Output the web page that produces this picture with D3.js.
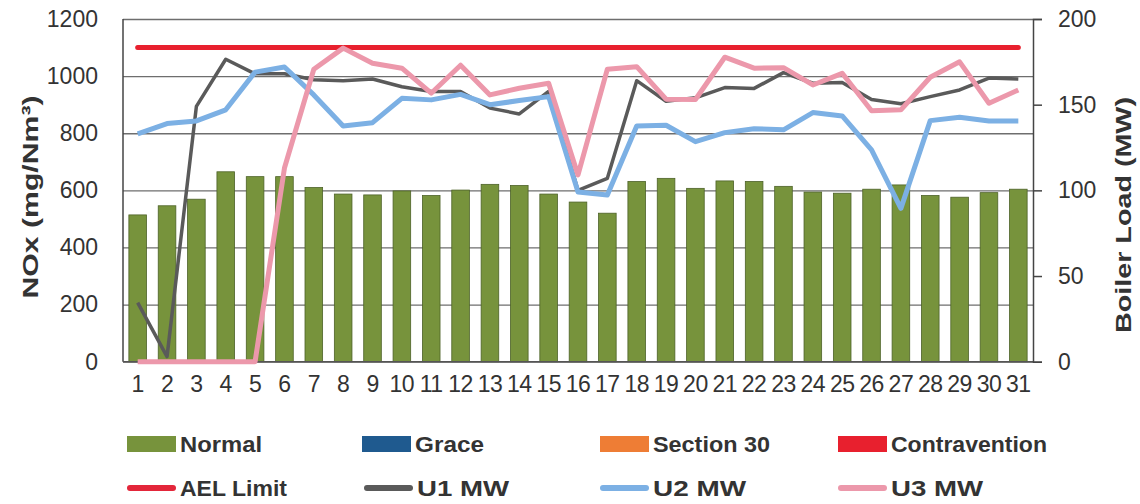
<!DOCTYPE html>
<html>
<head>
<meta charset="utf-8">
<script src="https://cdn.jsdelivr.net/npm/d3@7.9.0/dist/d3.min.js"></script>
<style>
  body { margin: 0; background: #fff; overflow: hidden; }
  svg { display: block; font-family: "Liberation Sans", Arial, sans-serif; }
</style>
</head>
<body>
<svg id="chart" width="1140" height="504"></svg>
<script>
// days of the month
const days = d3.range(1, 32);

// NOx per day, mg/Nm3 (bars, all "Normal")
const noxNormal = [514, 546, 569, 665, 648, 648, 610, 587, 584, 598, 582, 601, 621, 617, 587, 559,
  520, 631, 642, 607, 633, 631, 614, 594, 590, 604, 619, 582, 576, 592, 604];

// boiler loads, MW (right axis)
const u1MW = [34.5, 3, 149, 176.5, 168, 168, 164.5, 164, 165, 160.5, 157.7, 157.7, 148, 144.6, 157.7, 100,
  107, 164, 152, 154, 160, 159.5, 168.7, 162.5, 163, 153, 150.5, 154.7, 158.6, 165.5, 165];
const u2MW = [133, 139, 140.5, 147, 169, 172, 155.7, 137.6, 139.5, 153.7, 152.8, 156, 150, 152.4, 154.7, 99,
  97.3, 137.6, 138, 128.4, 133.7, 136, 135.3, 145.4, 143.4, 123.6, 89.5, 140.7, 142.7, 140.5, 140.5];
const u3MW = [0, 0, 0, 0, 0, 113, 170.7, 183, 174.2, 171.3, 156.7, 173, 155.7, 159.6, 162.5, 109,
  170.7, 172.2, 153.2, 153, 177.7, 171.3, 171.6, 161.5, 168.3, 146.5, 147, 166, 175, 150.8, 158.6];

const aelLimit = 1100;

const leftTicks = [0, 200, 400, 600, 800, 1000, 1200];
const rightTicks = [0, 50, 100, 150, 200];

const svg = d3.select('#chart');
const plotL = 123, plotR = 1033, plotT = 19, plotB = 361.7;

const x = d3.scaleBand().domain(days).range([plotL, plotR]).paddingInner(0.4).paddingOuter(0.2);
const y = d3.scaleLinear().domain([0, 1200]).range([plotB, plotT]);
const y2 = d3.scaleLinear().domain([0, 200]).range([plotB, plotT]);
const cx = d => x(d) + x.bandwidth() / 2;

// gridlines
svg.append('g')
  .attr('transform', `translate(${plotL},0)`)
  .call(d3.axisLeft(y).tickValues(leftTicks).tickSize(-(plotR - plotL)).tickFormat(''))
  .call(g => g.select('.domain').remove())
  .call(g => g.selectAll('line').attr('stroke', '#6e6e6e').attr('stroke-width', 1.3));

// bars
svg.append('g').selectAll('rect')
  .data(days)
  .join('rect')
  .attr('x', d => x(d))
  .attr('width', x.bandwidth())
  .attr('y', (d, i) => y(noxNormal[i]))
  .attr('height', (d, i) => y(0) - y(noxNormal[i]))
  .attr('fill', '#77933c')
  .attr('stroke', '#4d6228')
  .attr('stroke-width', 0.8);

// axis frame lines
svg.append('line').attr('x1', plotL).attr('x2', plotL).attr('y1', plotT).attr('y2', plotB)
  .attr('stroke', '#444').attr('stroke-width', 1.5);
svg.append('line').attr('x1', plotL).attr('x2', plotR).attr('y1', plotB).attr('y2', plotB)
  .attr('stroke', '#555').attr('stroke-width', 1.5);

// AEL limit line
svg.append('line')
  .attr('x1', cx(1)).attr('x2', cx(31))
  .attr('y1', y(aelLimit)).attr('y2', y(aelLimit))
  .attr('stroke', '#e8202e').attr('stroke-width', 5).attr('stroke-linecap', 'round');

const line = d3.line().x((d, i) => cx(days[i])).y(d => y2(d));
const series = [
  { vals: u1MW, color: '#5a5a5a', w: 3.5 },
  { vals: u2MW, color: '#7cb0e4', w: 5 },
  { vals: u3MW, color: '#ec98ab', w: 5 }
];
series.forEach(s => {
  svg.append('path')
    .attr('d', line(s.vals))
    .attr('fill', 'none')
    .attr('stroke', s.color)
    .attr('stroke-width', s.w)
    .attr('stroke-linejoin', 'round');
});

// left axis labels
svg.append('g')
  .attr('transform', `translate(${plotL},0)`)
  .call(d3.axisLeft(y).tickValues(leftTicks).tickSize(0).tickPadding(25).tickFormat(d3.format('d')))
  .call(g => g.select('.domain').remove())
  .call(g => g.selectAll('text').attr('font-size', 23).attr('fill', '#333').attr('font-family', null));

// right axis
svg.append('g')
  .attr('transform', `translate(${plotR},0)`)
  .call(d3.axisRight(y2).tickValues(rightTicks).tickSize(9).tickPadding(16))
  .call(g => g.select('.domain').attr('stroke', '#444').attr('stroke-width', 1.5))
  .call(g => g.selectAll('line').attr('stroke', '#444').attr('stroke-width', 1.5))
  .call(g => g.selectAll('text').attr('font-size', 23).attr('fill', '#333').attr('font-family', null));

// x axis labels
svg.append('g')
  .attr('transform', `translate(0,${plotB})`)
  .call(d3.axisBottom(x).tickSize(0).tickPadding(14))
  .call(g => g.select('.domain').remove())
  .call(g => g.selectAll('text').attr('font-size', 23).attr('fill', '#333').attr('font-family', null)
    .attr('letter-spacing', -0.5));

// axis titles
svg.append('text')
  .attr('transform', 'translate(38,197) rotate(-90)')
  .attr('text-anchor', 'middle')
  .attr('font-size', 22).attr('font-weight', 'bold').attr('fill', '#333')
  .attr('textLength', 203).attr('lengthAdjust', 'spacingAndGlyphs')
  .text('NOx (mg/Nm³)');
svg.append('text')
  .attr('transform', 'translate(1131,215) rotate(-90)')
  .attr('text-anchor', 'middle')
  .attr('font-size', 22).attr('font-weight', 'bold').attr('fill', '#333')
  .attr('textLength', 236).attr('lengthAdjust', 'spacingAndGlyphs')
  .text('Boiler Load (MW)');

// legend
const legendRows = [
  { label: 'Normal', color: '#77933c', kind: 'box', x: 127, y: 444, tw: 82 },
  { label: 'Grace', color: '#1f5a8f', kind: 'box', x: 362, y: 444, tw: 69 },
  { label: 'Section 30', color: '#ee7d35', kind: 'box', x: 600, y: 444, tw: 117 },
  { label: 'Contravention', color: '#e8202e', kind: 'box', x: 838, y: 444, tw: 156 },
  { label: 'AEL Limit', color: '#e3263a', kind: 'line', x: 127, y: 488, tw: 107 },
  { label: 'U1 MW', color: '#5a5a5a', kind: 'line', x: 364, y: 488, tw: 92 },
  { label: 'U2 MW', color: '#7cb0e4', kind: 'line', x: 600, y: 488, tw: 93 },
  { label: 'U3 MW', color: '#ec98ab', kind: 'line', x: 838, y: 488, tw: 92 }
];
const lg = svg.append('g').selectAll('g').data(legendRows).join('g');
lg.filter(d => d.kind === 'box').append('rect')
  .attr('x', d => d.x).attr('y', d => d.y - 8).attr('width', 49).attr('height', 16)
  .attr('fill', d => d.color);
lg.filter(d => d.kind === 'line').append('line')
  .attr('x1', d => d.x + 3).attr('x2', d => d.x + 46).attr('y1', d => d.y).attr('y2', d => d.y)
  .attr('stroke', d => d.color).attr('stroke-width', 6).attr('stroke-linecap', 'round');
lg.append('text')
  .attr('x', d => d.x + 53).attr('y', d => d.y).attr('dy', '0.35em')
  .attr('font-size', 22).attr('font-weight', 'bold').attr('fill', '#333')
  .attr('textLength', d => d.tw).attr('lengthAdjust', 'spacingAndGlyphs')
  .text(d => d.label);
</script>
</body>
</html>
